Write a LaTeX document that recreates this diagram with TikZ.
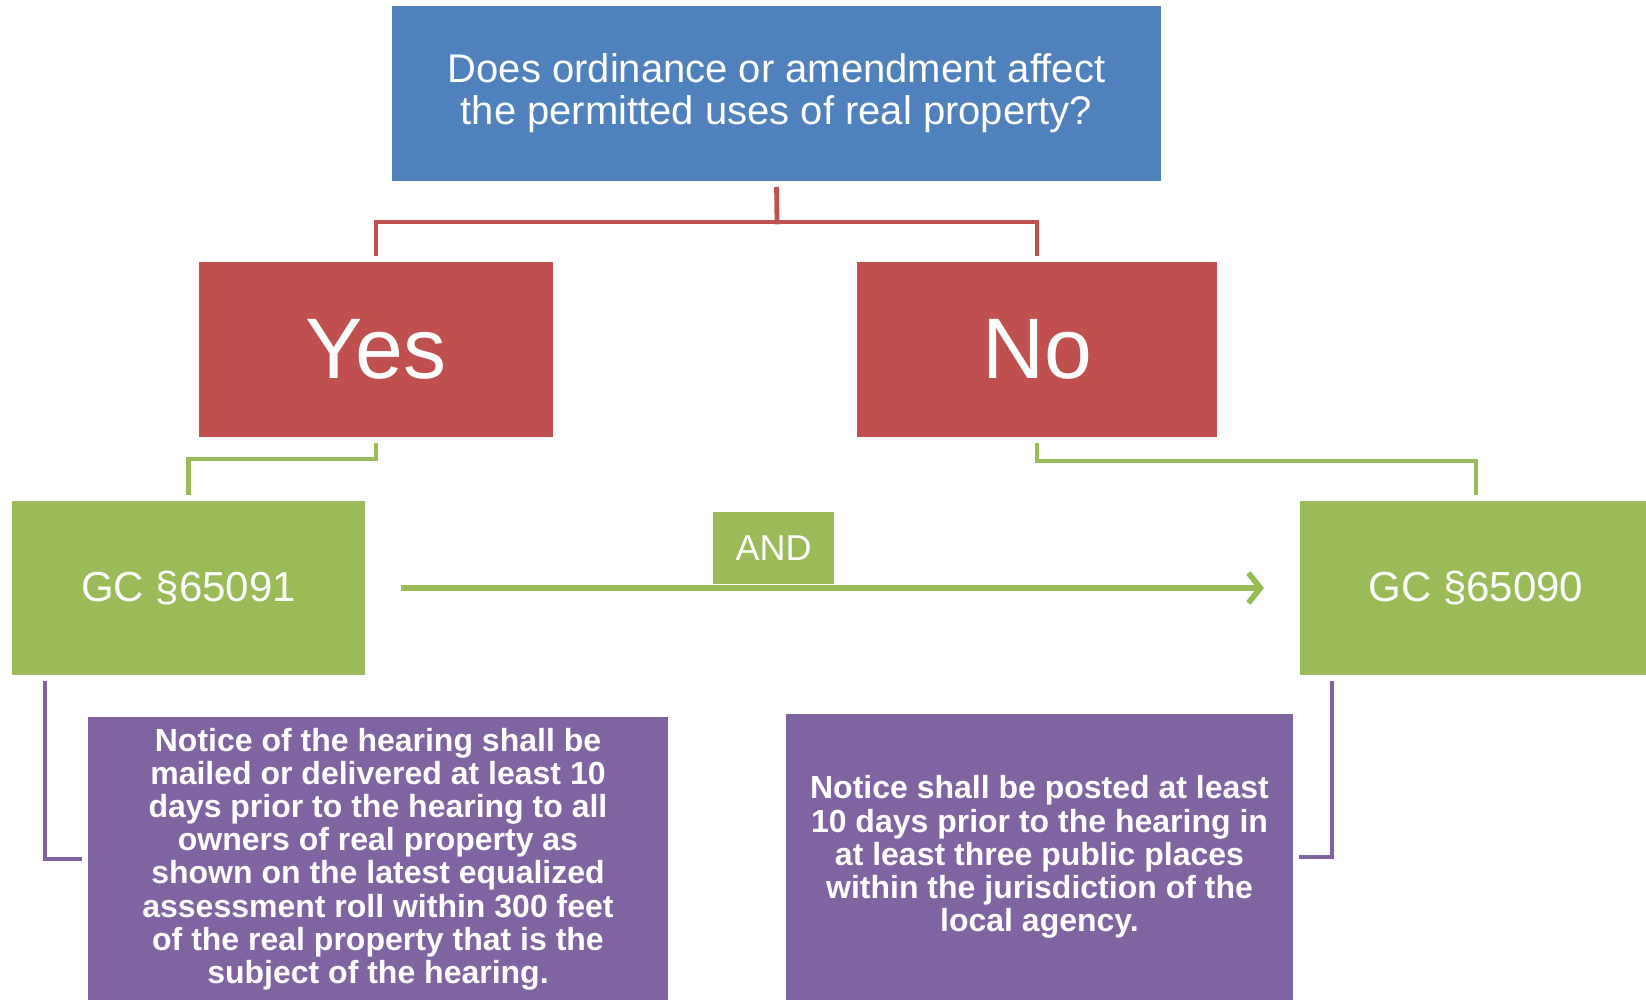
\documentclass[tikz,border=0pt]{standalone}
\usepackage{fontspec}
\setmainfont{Liberation Sans}
\usetikzlibrary{arrows.meta}

\definecolor{qblue}{HTML}{4F81BD}
\definecolor{ansred}{HTML}{C0504D}
\definecolor{gcgreen}{HTML}{9BBB59}
\definecolor{notepurple}{HTML}{8064A2}

\begin{document}
\begin{tikzpicture}[x=0.5pt,y=-0.5pt]
\tikzstyle{every node}=[rectangle, inner sep=0pt, outer sep=0pt, text=white, align=center]
\tikzstyle{link}=[line width=2.4pt, shorten <=3pt, shorten >=3pt]
\useasboundingbox (0,0) rectangle (1646,1000);
\draw (776.5,93.5) node (q) [fill=qblue, minimum width=384.5pt, minimum height=87.5pt, font=\fontsize{20}{21}\selectfont] {Does ordinance or amendment affect\\the permitted uses of real property?};
\draw (376,349.5) node (yes) [fill=ansred, minimum width=177pt, minimum height=87.5pt, font=\fontsize{43}{47}\selectfont] {Yes};
\draw (1037,349.5) node (no) [fill=ansred, minimum width=180pt, minimum height=87.5pt, font=\fontsize{43}{47}\selectfont] {No};
\draw (188.5,588) node (gc91) [fill=gcgreen, minimum width=176.5pt, minimum height=86.5pt, font=\fontsize{21}{24}\selectfont] {GC §65091};
\draw (1476,588) node (gc90) [fill=gcgreen, minimum width=176pt, minimum height=86.5pt, font=\fontsize{21}{24}\selectfont] {GC §65090};
\draw (773.5,548) node (and) [fill=gcgreen, minimum width=60.5pt, minimum height=36pt, font=\fontsize{18}{20}\selectfont] {AND};
\draw (378,859) node (p1) [fill=notepurple, minimum width=290pt, minimum height=142pt, font=\bfseries\fontsize{16}{16.6}\selectfont] {Notice of the hearing shall be\\mailed or delivered at least 10\\days prior to the hearing to all\\owners of real property as\\shown on the latest equalized\\assessment roll within 300 feet\\of the real property that is the\\subject of the hearing.};
\draw (1039.5,857) node (p2) [fill=notepurple, minimum width=253.5pt, minimum height=143pt, font=\bfseries\fontsize{16}{16.6}\selectfont] {Notice shall be posted at least\\10 days prior to the hearing in\\at least three public places\\within the jurisdiction of the\\local agency.};
\coordinate (qbus) at (777,222);
\draw[link, ansred, shorten >=-1.2pt] (q.south) -- (qbus);
\draw[link, ansred, shorten <=0pt] (qbus) -| (yes.north);
\draw[link, ansred, shorten <=0pt] (qbus) -| (no.north);
\draw[link, gcgreen] (yes.south) -- ++(0,22) -| (gc91.north);
\draw[link, gcgreen] (no.south) -- ++(0,24) -| (gc90.north);
\draw[link, notepurple] ([xshift=16.5pt]gc91.south west) |- (p1.west);
\draw[link, notepurple] ([xshift=16pt]gc90.south west) |- (p2.east);
\draw[gcgreen, line width=2.8pt, shorten <=18pt, shorten >=18pt, -{Straight Barb[length=6pt, width=15pt]}] (gc91) -- (gc90);
\end{tikzpicture}
\end{document}
